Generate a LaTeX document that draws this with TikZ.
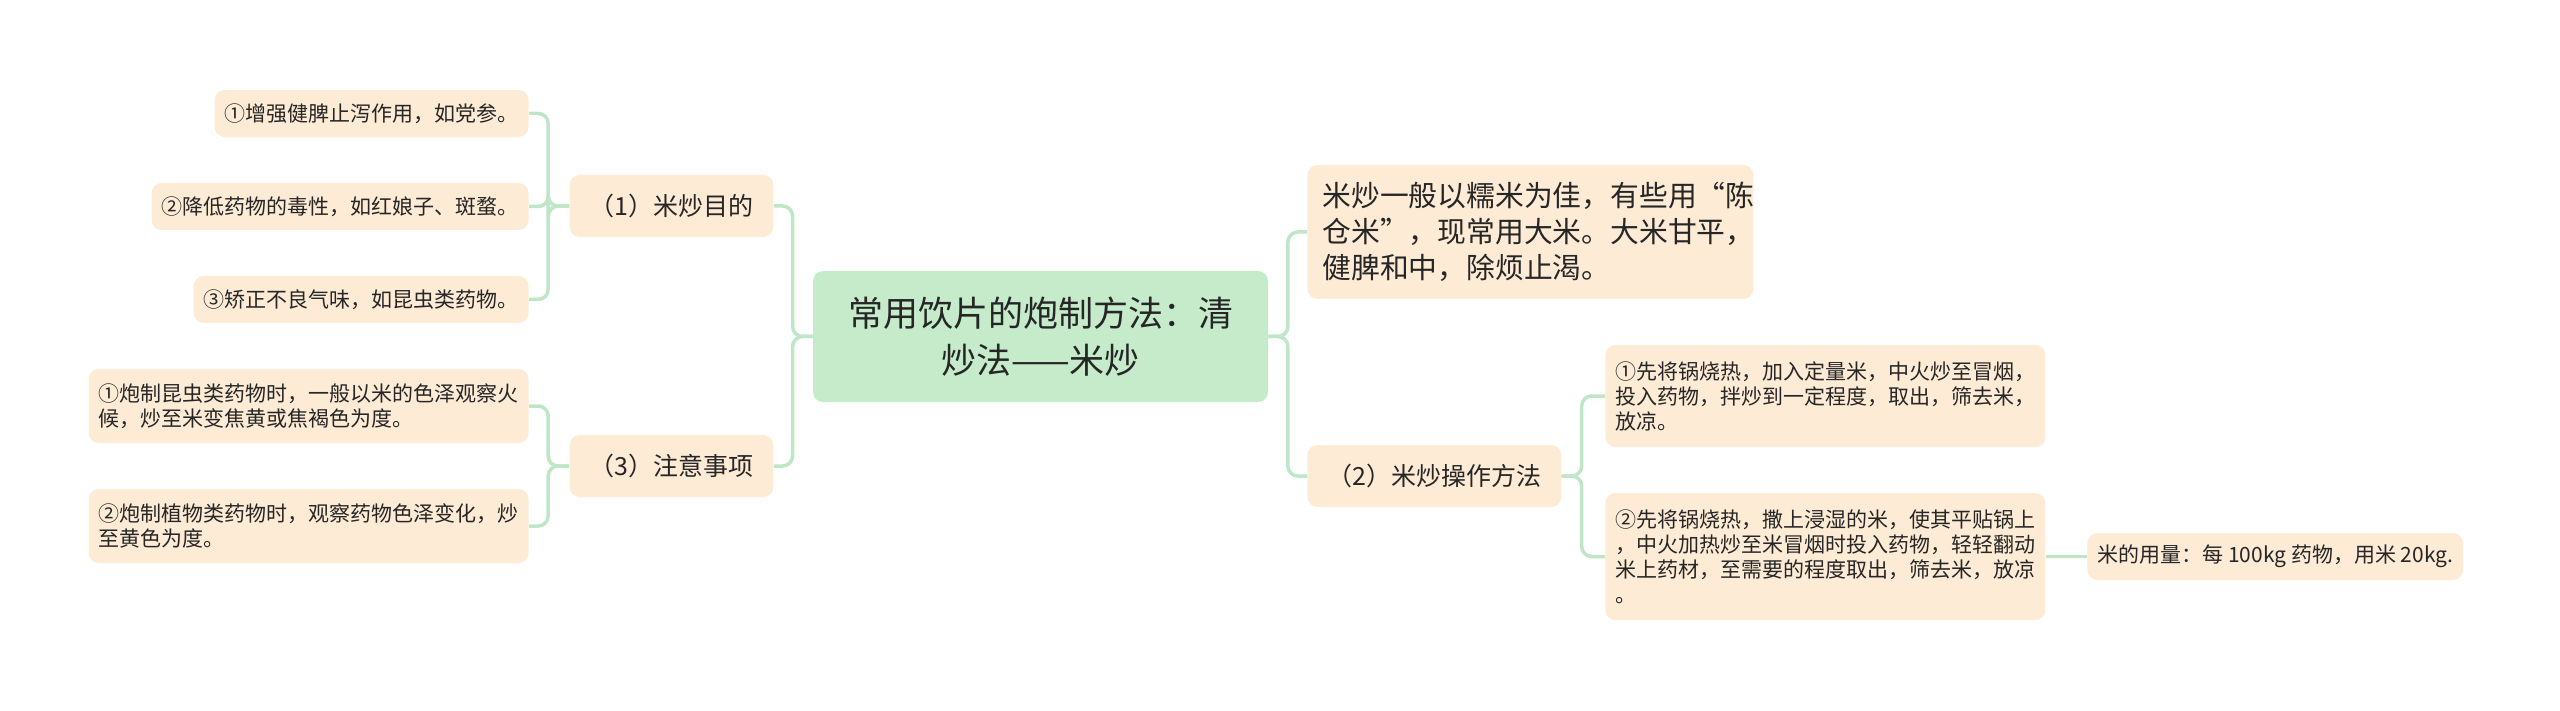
\documentclass[tikz,border=0pt]{standalone}
\usepackage{fontspec}
\setmainfont{Noto Sans CJK SC}
\usepackage{tikz}
\usepackage{xcolor}

\definecolor{peach}{HTML}{FDEBD5}
\definecolor{mint}{HTML}{C5EBCB}
\definecolor{vine}{HTML}{BFE7C7}
\definecolor{ink}{HTML}{262626}

\begin{document}
\begin{tikzpicture}[x=0.5pt, y=-0.5pt,
        every node/.style={text=ink, rounded corners=5pt},
        mainbox/.style={fill=mint, align=center, font=\fontsize{17.5}{23.5}\selectfont, minimum width=227.5pt, minimum height=65.5pt},
        topic/.style={fill=peach, font=\fontsize{12.5}{15}\selectfont, inner xsep=10pt, minimum height=31pt},
        leaf/.style={fill=peach, align=left, font=\fontsize{10.5}{12.5}\selectfont, inner xsep=5pt, minimum height=23.5pt},
        link/.style={draw=vine, line width=1.75pt, rounded corners=5pt}]
            \useasboundingbox (0,0) rectangle (2560,711);

            \node[mainbox] (root) at (1040.5,336.5) {常用饮片的炮制方法：清\\炒法——米炒};

            \node[topic] (aim) at (671.5,206) {（1）米炒目的};
            \node[topic] (note) at (671.5,466) {（3）注意事项};
            \node[topic, anchor=west] (op) at (1307,476) {（2）米炒操作方法};

            \node[leaf, anchor=east] (aim1) at (529,113.5) {①增强健脾止泻作用，如党参。};
            \node[leaf, anchor=east] (aim2) at (529,206.5) {②降低药物的毒性，如红娘子、斑蝥。};
            \node[leaf, anchor=east] (aim3) at (529,299.5) {③矫正不良气味，如昆虫类药物。};

            \node[leaf, anchor=east, minimum height=37pt] (note1) at (529,406) {①炮制昆虫类药物时，一般以米的色泽观察火\\候，炒至米变焦黄或焦褐色为度。};
            \node[leaf, anchor=east, minimum height=37pt] (note2) at (529,526) {②炮制植物类药物时，观察药物色泽变化，炒\\至黄色为度。};

            \node[leaf, anchor=west, font=\fontsize{14.4}{18}\selectfont, inner xsep=7.5pt, text width=208pt, minimum height=67pt] (rice) at (1307,232) {米炒一般以糯米为佳，有些用“陈\\仓米”，现常用大米。大米甘平，\\健脾和中，除烦止渴。};

            \node[leaf, anchor=west, minimum height=51pt] (op1) at (1605,396) {①先将锅烧热，加入定量米，中火炒至冒烟，\\投入药物，拌炒到一定程度，取出，筛去米，\\放凉。};
            \node[leaf, anchor=west, minimum height=63.5pt] (op2) at (1605,556.5) {②先将锅烧热，撒上浸湿的米，使其平贴锅上\\，中火加热炒至米冒烟时投入药物，轻轻翻动\\米上药材，至需要的程度取出，筛去米，放凉\\。};
            \node[leaf, anchor=west] (dose) at (2087,556.5) {米的用量：每 100kg 药物，用米 20kg.};

            \draw[link] (root.west) -- ++(-20,0) |- (aim.east);
            \draw[link] (root.west) -- ++(-20,0) |- (note.east);
            \draw[link] (root.east) -- ++(19.5,0) |- (rice.west);
            \draw[link] (root.east) -- ++(19.5,0) |- (op.west);

            \draw[link] (aim.west) -- ++(-21,0) |- (aim1.east);
            \draw[link] (aim.west) -- ++(-21,0) |- (aim2.east);
            \draw[link] (aim.west) -- ++(-21,0) |- (aim3.east);
            \draw[link] (note.west) -- ++(-21,0) |- (note1.east);
            \draw[link] (note.west) -- ++(-21,0) |- (note2.east);

            \draw[link] (op.east) -- ++(20,0) |- (op1.west);
            \draw[link] (op.east) -- ++(20,0) |- (op2.west);
            \draw[link] (op2.east) -- (dose.west);
        \end{tikzpicture}
\end{document}
